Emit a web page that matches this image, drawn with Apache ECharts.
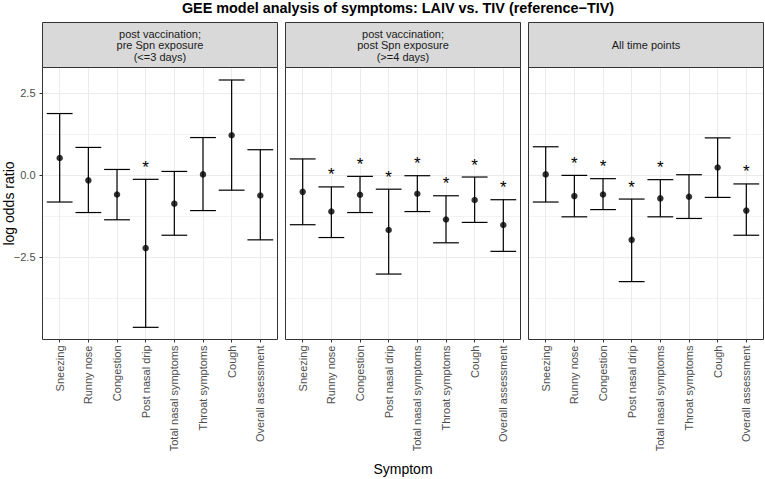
<!DOCTYPE html>
<html><head><meta charset="utf-8">
<script src="https://cdn.jsdelivr.net/npm/echarts@6/dist/echarts.min.js"></script>
<style>html,body{margin:0;padding:0;background:#fff}#c{width:765px;height:479px}</style>
</head><body><div id="c"></div>
<script>
// ---- data ----
const symptoms = ['Sneezing','Runny nose','Congestion','Post nasal drip','Total nasal symptoms','Throat symptoms','Cough','Overall assessment'];
const panelTitles = ['post vaccination;\npre Spn exposure\n(<=3 days)','post vaccination;\npost Spn exposure\n(>=4 days)','All time points'];
const yTicks = [-2.5, 0, 2.5];
const yTickLabels = ['\u22122.5','0.0','2.5'];

const preEst = [0.52, -0.16, -0.59, -2.22, -0.87, 0.02, 1.21, -0.62];
const preLo  = [-0.82, -1.14, -1.36, -4.63, -1.83, -1.08, -0.46, -1.97];
const preHi  = [1.87, 0.84, 0.17, -0.13, 0.11, 1.14, 2.89, 0.77];
const preSig = [0, 0, 0, 1, 0, 0, 0, 0];

const postEst = [-0.51, -1.11, -0.60, -1.67, -0.57, -1.35, -0.76, -1.52];
const postLo  = [-1.51, -1.90, -1.14, -3.01, -1.11, -2.06, -1.44, -2.32];
const postHi  = [0.49, -0.36, -0.04, -0.43, -0.02, -0.63, -0.06, -0.75];
const postSig = [0, 1, 1, 1, 1, 1, 1, 1];

const allEst = [0.02, -0.64, -0.59, -1.97, -0.71, -0.66, 0.23, -1.08];
const allLo  = [-0.82, -1.27, -1.05, -3.24, -1.27, -1.32, -0.68, -1.83];
const allHi  = [0.86, -0.01, -0.11, -0.73, -0.14, 0.01, 1.13, -0.27];
const allSig = [0, 1, 1, 1, 1, 0, 0, 1];

// ---- layout ----
const FONT = '"Liberation Sans", Arial, Helvetica, sans-serif';
const PL = [42.5, 285.5, 528.5];
const PW = 235;
const PT = 67.5, PH = 272;
const STRIP_T = 22.5, STRIP_H = 45;
const Y_MIN = -5, Y_MAX = 3.27;

const panels = [
  {est: preEst, lo: preLo, hi: preHi, sig: preSig},
  {est: postEst, lo: postLo, hi: postHi, sig: postSig},
  {est: allEst, lo: allLo, hi: allHi, sig: allSig}
];

const grids = [], xAxes = [], yAxes = [], series = [], graphics = [];

panels.forEach((p, i) => {
  const L = PL[i];
  const band = PW / 8.2;
  grids.push({left: L, top: PT, width: PW, height: PH});
  grids.push({left: L + 0.6 * band, top: PT, width: 7 * band, height: PH});
  const gA = 2 * i, gB = 2 * i + 1;
  xAxes.push({gridIndex: gA, type: 'value', min: 0, max: 1, show: false});
  xAxes.push({gridIndex: gB, type: 'category', data: symptoms, boundaryGap: false, position: 'bottom',
    axisLine: {show: false, onZero: false},
    axisTick: {show: true, length: 3, lineStyle: {color: '#333333', width: 1}},
    axisLabel: {rotate: 90, margin: 6, fontSize: 11, color: '#4D4D4D', fontFamily: FONT, interval: 0},
    splitLine: {show: true, lineStyle: {color: '#EBEBEB', width: 1}}
  });
  // minor grid
  yAxes.push({gridIndex: gA, type: 'value', min: Y_MIN, max: Y_MAX, interval: 1.25, position: 'right',
    axisLine: {show: false}, axisTick: {show: false}, axisLabel: {show: false},
    splitLine: {show: true, lineStyle: {color: '#F3F3F3', width: 1}}});
  // major grid + ticks/labels
  yAxes.push({gridIndex: gA, type: 'value', min: Y_MIN, max: Y_MAX, interval: 2.5, position: 'left',
    axisLine: {show: false, onZero: false},
    axisTick: {show: i === 0, length: 3, customValues: yTicks, lineStyle: {color: '#333333'}},
    axisLabel: {show: i === 0, customValues: yTicks, margin: 7, fontSize: 11, color: '#4D4D4D', fontFamily: FONT,
      formatter: v => { const k = yTicks.indexOf(v); return k >= 0 ? yTickLabels[k] : ''; }},
    splitLine: {show: true, lineStyle: {color: '#EBEBEB', width: 1}}});
  // data axis on grid B
  yAxes.push({gridIndex: gB, type: 'value', min: Y_MIN, max: Y_MAX, show: false});

  const xi = 2 * i + 1, yi = 3 * i + 2;
  series.push({
    type: 'custom', xAxisIndex: xi, yAxisIndex: yi, silent: true, z: 3,
    data: p.est.map((e, k) => [k, p.lo[k], p.hi[k]]),
    renderItem: (params, api) => {
      const x = api.value(0);
      const a = api.coord([x, api.value(2)]);
      const b = api.coord([x, api.value(1)]);
      const half = api.size([1, 0])[0] * 0.9 / 2;
      const st = {stroke: '#000', lineWidth: 1.2, fill: null};
      return {type: 'group', children: [
        {type: 'line', shape: {x1: a[0], y1: a[1], x2: b[0], y2: b[1]}, style: st},
        {type: 'line', shape: {x1: a[0] - half, y1: a[1], x2: a[0] + half, y2: a[1]}, style: st},
        {type: 'line', shape: {x1: b[0] - half, y1: b[1], x2: b[0] + half, y2: b[1]}, style: st}
      ]};
    }
  });
  series.push({
    type: 'scatter', xAxisIndex: xi, yAxisIndex: yi, silent: true, z: 4,
    symbol: 'circle', symbolSize: 6.5, itemStyle: {color: '#000'},
    data: p.est.map((e, k) => [k, e])
  });
  series.push({
    type: 'custom', xAxisIndex: xi, yAxisIndex: yi, silent: true, z: 4,
    data: p.hi.map((h, k) => [k, h]).filter((d, k) => p.sig[k] === 1),
    renderItem: (params, api) => {
      const c = api.coord([api.value(0), api.value(1)]);
      return {type: 'text', x: c[0], y: c[1] - 12,
        style: {text: '*', fontSize: 17, fontFamily: FONT, fill: '#000', align: 'center', verticalAlign: 'middle'}};
    }
  });

  // strip
  graphics.push({type: 'rect', z: 10, shape: {x: L, y: STRIP_T, width: PW, height: STRIP_H},
    style: {fill: '#D9D9D9', stroke: '#333333', lineWidth: 1}});
  graphics.push({type: 'text', z: 11, x: L + PW / 2, y: STRIP_T + STRIP_H / 2,
    style: {text: panelTitles[i], fontSize: 11, lineHeight: 11.5, fontFamily: FONT, fill: '#1A1A1A', align: 'center', verticalAlign: 'middle'}});
  // panel border
  graphics.push({type: 'rect', z: 10, shape: {x: L, y: PT, width: PW, height: PH},
    style: {fill: null, stroke: '#333333', lineWidth: 1}});
});

graphics.push({type: 'text', z: 11, x: 9, y: PT + PH / 2, rotation: Math.PI / 2,
  style: {text: 'log odds ratio', fontSize: 14, fontFamily: FONT, fill: '#000', align: 'center', verticalAlign: 'middle'}});
graphics.push({type: 'text', z: 11, x: (PL[0] + PL[2] + PW) / 2, y: 469,
  style: {text: 'Symptom', fontSize: 14, fontFamily: FONT, fill: '#000', align: 'center', verticalAlign: 'middle'}});

const chart = echarts.init(document.getElementById('c'), null, {renderer: 'svg'});
chart.setOption({
  animation: false,
  backgroundColor: '#fff',
  title: {text: 'GEE model analysis of symptoms: LAIV vs. TIV (reference\u2212TIV)', left: 398, top: 1, padding: 0, textAlign: 'center',
    textStyle: {fontSize: 14.4, fontWeight: 'bold', color: '#000', fontFamily: FONT}},
  grid: grids, xAxis: xAxes, yAxis: yAxes, series: series, graphic: graphics
});
</script></body></html>
